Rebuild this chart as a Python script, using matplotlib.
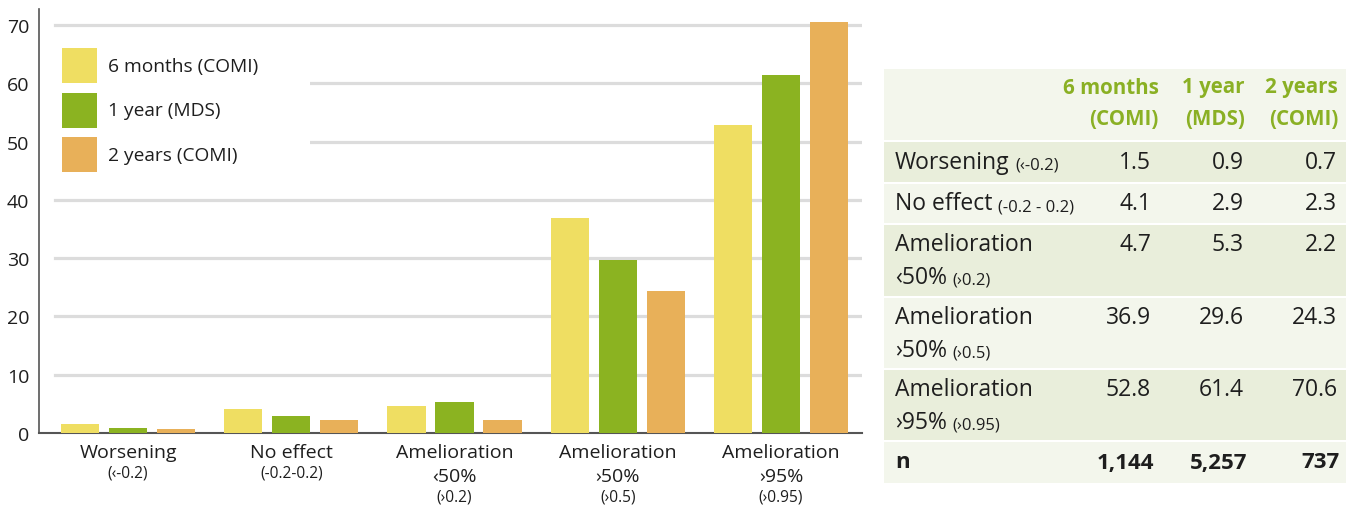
import numpy as np
import matplotlib.pyplot as plt
from matplotlib.patches import Rectangle

plt.rcParams['font.family'] = ['Open Sans', 'DejaVu Sans']

# data
series_names = ['6 months (COMI)', '1 year (MDS)', '2 years (COMI)']
header_top = ['6 months', '1 year', '2 years']
header_bottom = ['(COMI)', '(MDS)', '(COMI)']
six_months = [1.5, 4.1, 4.7, 36.9, 52.8]
one_year = [0.9, 2.9, 5.3, 29.6, 61.4]
two_years = [0.7, 2.3, 2.2, 24.3, 70.6]
n_values = ['1,144', '5,257', '737']

cat_main = ['Worsening', 'No effect', 'Amelioration', 'Amelioration', 'Amelioration']
cat_line2 = ['', '', '‹50%', '›50%', '›95%']
cat_small = ['(‹-0.2)', '(-0.2-0.2)', '(›0.2)', '(›0.5)', '(›0.95)']
row_small = ['(‹-0.2)', '(-0.2 - 0.2)', '(›0.2)', '(›0.5)', '(›0.95)']

colors = ['#efde62', '#8bb321', '#e8b059']
green_txt = '#8ab024'
dark = '#1e1e1e'

W, H = 1349, 506
fig = plt.figure(figsize=(W / 100, H / 100), dpi=100)


def fx(x):
    return x / W


def fy(y):
    return 1 - y / H


# ---- bar chart ----
ax = fig.add_axes([fx(39), fy(434), (862 - 39) / W, (434 - 10) / H])
x = np.arange(len(cat_main))
step, bw = 0.294, 0.233
for i, vals in enumerate([six_months, one_year, two_years]):
    ax.bar(x + (i - 1) * step, vals, bw, color=colors[i], zorder=3)

ax.set_xlim(-0.545, 4.496)
ax.set_ylim(0, 424 / (408 / 70))
for yv in range(10, 80, 10):
    ax.axhline(yv, xmin=0.0194, xmax=1, color='#dcdcdc', lw=2.3, zorder=1)
ax.set_yticks(range(0, 80, 10))
ax.tick_params(axis='y', length=0, labelsize=14, pad=7, labelcolor=dark)
ax.set_xticks([])
for s in ['top', 'right']:
    ax.spines[s].set_visible(False)
ax.spines['left'].set_color('#555555')
ax.spines['left'].set_linewidth(1.2)
ax.spines['bottom'].set_color('#555555')
ax.spines['bottom'].set_linewidth(1.5)

trans = ax.get_xaxis_transform()
px_per_axes = 424.0


def ay(ypix):
    return (434 - ypix) / px_per_axes


for i in range(len(cat_main)):
    ax.text(x[i], ay(453), cat_main[i], transform=trans, ha='center', va='center',
            fontsize=14, color=dark)
    if cat_line2[i]:
        ax.text(x[i], ay(477), cat_line2[i], transform=trans, ha='center', va='center',
                fontsize=14, color=dark)
        ax.text(x[i], ay(498), cat_small[i], transform=trans, ha='center', va='center',
                fontsize=11.2, color=dark)
    else:
        ax.text(x[i], ay(473), cat_small[i], transform=trans, ha='center', va='center',
                fontsize=11.2, color=dark)

# legend (white box over the grid)
fig.add_artist(Rectangle((fx(50), fy(195)), (310 - 50) / W, (195 - 32) / H,
                         transform=fig.transFigure, facecolor='white', edgecolor='none', zorder=1))
for i, name in enumerate(series_names):
    top = 49 + i * 44.5
    fig.add_artist(Rectangle((fx(62), fy(top + 35)), 35 / W, 35 / H,
                             transform=fig.transFigure, facecolor=colors[i], edgecolor='none', zorder=2))
    fig.text(fx(108), fy(top + 18), name, ha='left', va='center', fontsize=13.8, color=dark, zorder=3)

# ---- table ----
row_bounds = [(70, 142), (142, 184), (184, 225), (225, 298), (298, 370), (370, 442), (442, 484)]
row_colors = ['#f3f6ec', '#e9eedb', '#f3f6ec', '#e9eedb', '#f3f6ec', '#e9eedb', '#f3f6ec']
tx0, tx1 = 884, 1346
for (t, b), c in zip(row_bounds, row_colors):
    fig.add_artist(Rectangle((fx(tx0), fy(b)), (tx1 - tx0) / W, (b - t) / H,
                             transform=fig.transFigure, facecolor=c, edgecolor='none', zorder=1))
for t, b in row_bounds[1:]:
    fig.add_artist(Rectangle((fx(tx0), fy(t + 1)), (tx1 - tx0) / W, 2 / H,
                             transform=fig.transFigure, facecolor='white', edgecolor='none', zorder=2))

col_right_hdr = [1159, 1245, 1338]
col_right = [1151, 1244, 1337]
for j in range(3):
    fig.text(fx(col_right_hdr[j]), fy(88), header_top[j], ha='right', va='center',
             fontsize=14.8, fontweight='bold', color=green_txt, zorder=3)
    fig.text(fx(col_right_hdr[j]), fy(120), header_bottom[j], ha='right', va='center',
             fontsize=14.8, fontweight='bold', color=green_txt, zorder=3)

table_cols = [six_months, one_year, two_years]
for i in range(len(cat_main)):
    t = row_bounds[i + 1][0]
    if cat_line2[i]:
        y1 = t + 20
    else:
        y1 = (row_bounds[i + 1][0] + row_bounds[i + 1][1]) / 2
    main = fig.text(fx(895), fy(y1), cat_main[i], ha='left', va='center',
                    fontsize=16.5, color=dark, zorder=3)
    if cat_line2[i]:
        base = fig.text(fx(895), fy(t + 53), cat_line2[i], ha='left', va='center',
                        fontsize=16.5, color=dark, zorder=3)
    else:
        base = main
    fig.add_artist(plt.Annotation(row_small[i], xy=(1, 0), xycoords=base,
                                  xytext=(4, 0.8), textcoords='offset points',
                                  ha='left', va='bottom', fontsize=12, color=dark, zorder=3))
    for j in range(3):
        fig.text(fx(col_right[j]), fy(y1), f'{table_cols[j][i]:.1f}', ha='right', va='center',
                 fontsize=16.5, color=dark, zorder=3)

n_y = (row_bounds[-1][0] + row_bounds[-1][1]) / 2
fig.text(fx(895), fy(n_y), 'n', ha='left', va='center', fontsize=16, fontweight='bold',
         color=dark, zorder=3)
for j in range(3):
    fig.text(fx(col_right[j] + 3), fy(n_y), n_values[j], ha='right', va='center',
             fontsize=16, fontweight='bold', color=dark, zorder=3)

fig.savefig('out.png', dpi=100)
